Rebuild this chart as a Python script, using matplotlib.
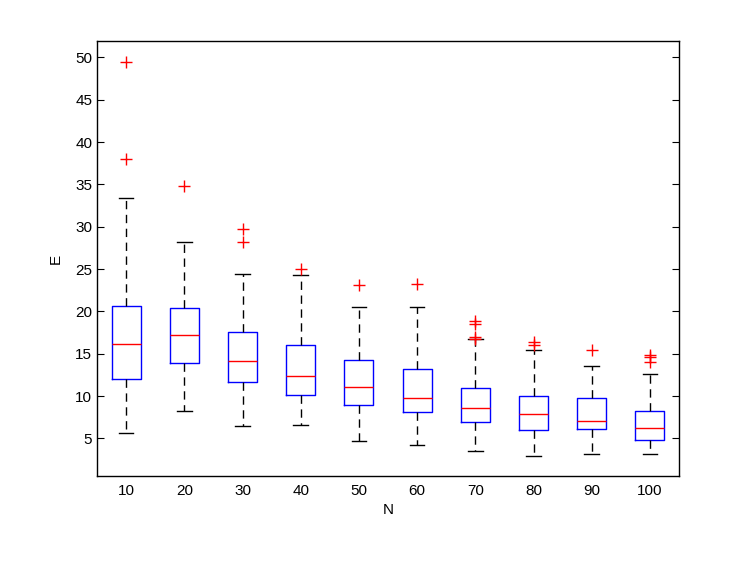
import matplotlib
matplotlib.use("Agg")
import matplotlib.pyplot as plt

plt.rcParams['font.family'] = ['Liberation Sans', 'DejaVu Sans']

# box statistics
n_labels = ["10", "20", "30", "40", "50", "60", "70", "80", "90", "100"]
whislo = [5.67, 8.19, 6.5, 6.62, 4.69, 4.25, 3.55, 2.92, 3.11, 3.11]
q1 = [11.97, 13.94, 11.66, 10.12, 8.98, 8.08, 6.97, 5.99, 6.1, 4.84]
med = [16.1, 17.2, 14.17, 12.33, 11.1, 9.77, 8.55, 7.88, 7.09, 6.22]
q3 = [20.63, 20.43, 17.56, 15.99, 14.26, 13.16, 10.91, 9.97, 9.73, 8.23]
whishi = [33.35, 28.25, 24.45, 24.33, 20.55, 20.48, 16.7, 15.47, 13.55, 12.64]
fliers = [
    [49.5, 37.96],
    [34.8],
    [29.7, 28.2],
    [24.97],
    [23.08],
    [23.27],
    [18.9, 18.47, 17.0, 16.77],
    [16.35, 16.07],
    [15.47],
    [14.85, 14.65, 13.98],
]

stats = []
for i in range(len(n_labels)):
    stats.append(dict(label=n_labels[i], whislo=whislo[i], q1=q1[i], med=med[i],
                      q3=q3[i], whishi=whishi[i], fliers=fliers[i]))

fig = plt.figure(figsize=(7.47, 5.62), dpi=100)
ax = fig.add_axes([0.1299, 0.153, 0.7791, 0.774])

ax.bxp(stats, positions=range(1, 11), widths=0.5, patch_artist=False,
       boxprops=dict(color='blue', linewidth=1.0),
       medianprops=dict(color='red', linewidth=1.0),
       whiskerprops=dict(color='black', linewidth=1.0, linestyle=(0, (6, 4))),
       capprops=dict(color='black', linewidth=1.0),
       capwidths=0.25,
       flierprops=dict(marker='+', markeredgecolor='red', markersize=9, markeredgewidth=1.0,
                       linestyle='none'))

ax.set_xlim(0.5, 10.5)
ax.set_ylim(0.55, 51.93)
ax.set_yticks(range(5, 51, 5))
ax.set_xticks(range(1, 11))
ax.set_xticklabels(n_labels)
ax.tick_params(axis='y', direction='in', right=True, length=5, labelsize=11)
ax.tick_params(axis='x', length=0, labelsize=11, pad=6)
ax.set_xlabel("N", fontsize=11, labelpad=3)
ax.set_ylabel("E", fontsize=11, labelpad=9)
for s in ax.spines.values():
    s.set_linewidth(1.0)

fig.savefig("out.png", dpi=100)
